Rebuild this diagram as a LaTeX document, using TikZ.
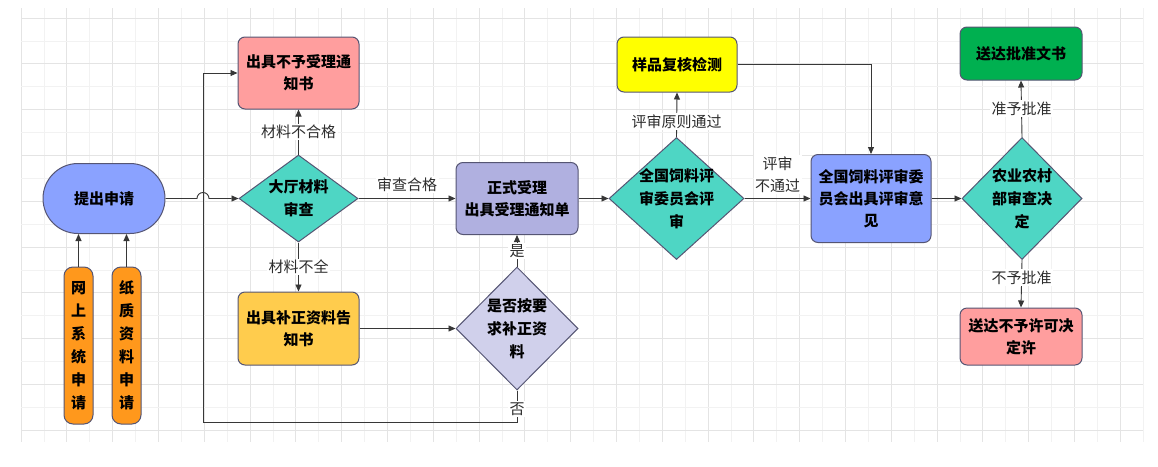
\documentclass[tikz,border=0pt]{standalone}
\usepackage{fontspec}
\setmainfont{Noto Sans CJK SC}
\usetikzlibrary{arrows.meta, shapes.geometric}
\definecolor{edgecol}{RGB}{85,85,115}
\definecolor{linecol}{RGB}{55,55,55}
\definecolor{textcol}{RGB}{45,45,45}
\definecolor{gridminor}{RGB}{242,242,242}
\definecolor{gridmajor}{RGB}{228,228,228}
\definecolor{applyblue}{RGB}{138,162,255}
\definecolor{orangefill}{RGB}{255,152,28}
\definecolor{teal}{RGB}{78,214,196}
\definecolor{salmon}{RGB}{255,158,158}
\definecolor{lavender}{RGB}{176,176,224}
\definecolor{gold}{RGB}{255,204,77}
\definecolor{paleblue}{RGB}{208,208,235}
\definecolor{brightyellow}{RGB}{255,255,0}
\definecolor{grantgreen}{RGB}{0,176,80}

\begin{document}
\begin{tikzpicture}[x=1pt, y=-1pt, font=\fontsize{15}{22}\selectfont, >={Triangle[length=7pt,width=6pt]},
    flow/.style={draw=linecol, line width=0.9pt},
    box/.style={draw=edgecol, fill=#1, line width=1pt, rounded corners=7pt, align=center,
      font=\fontsize{15}{22}\selectfont\bfseries, text=black, minimum width=121pt, inner sep=2pt},
    pill/.style={draw=edgecol, fill=orangefill, line width=1pt, rounded corners=9pt, align=center,
      font=\fontsize{15}{23}\selectfont\bfseries, minimum width=29pt, minimum height=157pt, inner sep=0pt},
    decide/.style={diamond, draw=edgecol, fill=#1, line width=1pt, inner sep=0pt},
    dtext/.style={align=center, font=\fontsize{15}{23}\selectfont\bfseries, text=black},
    lbl/.style={fill=white, inner sep=1.5pt, text=textcol}]
  % ---- page and grid ----
  \fill[white] (0,0) rectangle (1158,466);
  \useasboundingbox (0,0) rectangle (1158,466);
  \foreach \i in {0,...,49} {
    \pgfmathsetmacro{\gx}{21+22.9*\i}
    \ifodd\i \def\gc{gridminor}\else \def\gc{gridmajor}\fi
    \draw[\gc, line width=0.8pt] (\gx,8) -- (\gx,442);
  }
  \foreach \j in {0,...,18} {
    \pgfmathsetmacro{\gy}{18+22.9*\j}
    \ifodd\j \def\gc{gridminor}\else \def\gc{gridmajor}\fi
    \draw[\gc, line width=0.8pt] (21,\gy) -- (1143,\gy);
  }
  % ---- application ----
  \node[box=applyblue, rounded corners=35pt, minimum width=122pt, minimum height=70pt] (apply) at (104,198.5) {提出申请};
  \node[pill] (online) at (78.5,345.5) {网\\上\\系\\统\\申\\请};
  \node[pill] (paper)  at (126.5,345.5) {纸\\质\\资\\料\\申\\请};
  % ---- hall check ----
  \node[box=salmon, minimum height=72pt] (reject) at (298.5,73) {出具不予受理通\\知书};
  \node[decide=teal, minimum width=119pt, minimum height=87pt,
    label={[dtext]center:大厅材料\\审查}] (hall) at (298.5,198.5) {};
  \node[box=gold, minimum height=73pt] (supp) at (298.5,328.5) {出具补正资料告\\知书};
  \node[box=lavender, minimum width=122pt, minimum height=72pt] (accept) at (517,198.5) {正式受理\\出具受理通知单};
  \node[decide=paleblue, minimum width=122pt, minimum height=123pt,
    label={[dtext]center:是否按要\\求补正资\\料}] (recheck) at (517,328.5) {};
  % ---- committee review ----
  \node[decide=teal, minimum width=135pt, minimum height=122pt,
    label={[dtext]center:全国饲料评\\审委员会评\\审}] (review) at (676.5,198.5) {};
  \node[box=brightyellow, minimum width=120pt, minimum height=55pt] (sample) at (677,64.5) {样品复核检测};
  \node[box=applyblue, minimum width=120pt, minimum height=88pt] (opinion) at (871,198.5) {全国饲料评审委\\员会出具评审意\\见};
  % ---- ministry decision ----
  \node[decide=teal, minimum width=120pt, minimum height=122pt,
    label={[dtext]center:农业农村\\部审查决\\定}] (ministry) at (1022,198.5) {};
  \node[box=grantgreen, minimum width=122pt, minimum height=53pt] (grant) at (1021,53.5) {送达批准文书};
  \node[box=salmon, minimum width=122pt, minimum height=57pt] (deny) at (1021,336.5) {送达不予许可决\\定许};
  % ---- connectors ----
  \coordinate (hopL) at (197,198.5);
  \coordinate (loopR) at (517,422);
  \coordinate (loopL) at (203,422);
  \draw[flow,->] (online.north) -- (online.north |- apply.south);
  \draw[flow,->] (paper.north) -- (paper.north |- apply.south);
  \draw[flow,->] (apply.east) -- (hopL) arc[start angle=180, end angle=0, radius=6pt] -- (hall.west);
  \draw[flow,->] (hall.north) -- node[lbl] {材料不合格} (reject.south);
  \draw[flow,->] (hall.east) -- node[lbl, above=5pt] {审查合格} (accept.west);
  \draw[flow,->] (hall.south) -- node[lbl] {材料不全} (supp.north);
  \draw[flow,->] (supp.east) -- (recheck.west);
  \draw[flow,->] (recheck.north) -- node[lbl] {是} (accept.south);
  \draw[flow,->] (recheck.south) -- node[lbl, pos=0.6] {否} (loopR) -- (loopL) |- (reject.west);
  \draw[flow,->] (accept.east) -- (review.west);
  \draw[flow,->] (review.north) -- node[lbl, pos=0.35] {评审原则通过} (sample.south);
  \draw[flow,->] (review.east) -- node[lbl, above=4pt, align=center] {评审\\不通过} (opinion.west);
  \draw[flow,->] (sample.east) -| (opinion.north);
  \draw[flow,->] (opinion.east) -- (ministry.west);
  \draw[flow,->] (ministry.north) -- node[lbl] {准予批准} (grant.south);
  \draw[flow,->] (ministry.south) -- node[lbl, pos=0.37] {不予批准} (deny.north);
\end{tikzpicture}
\end{document}
